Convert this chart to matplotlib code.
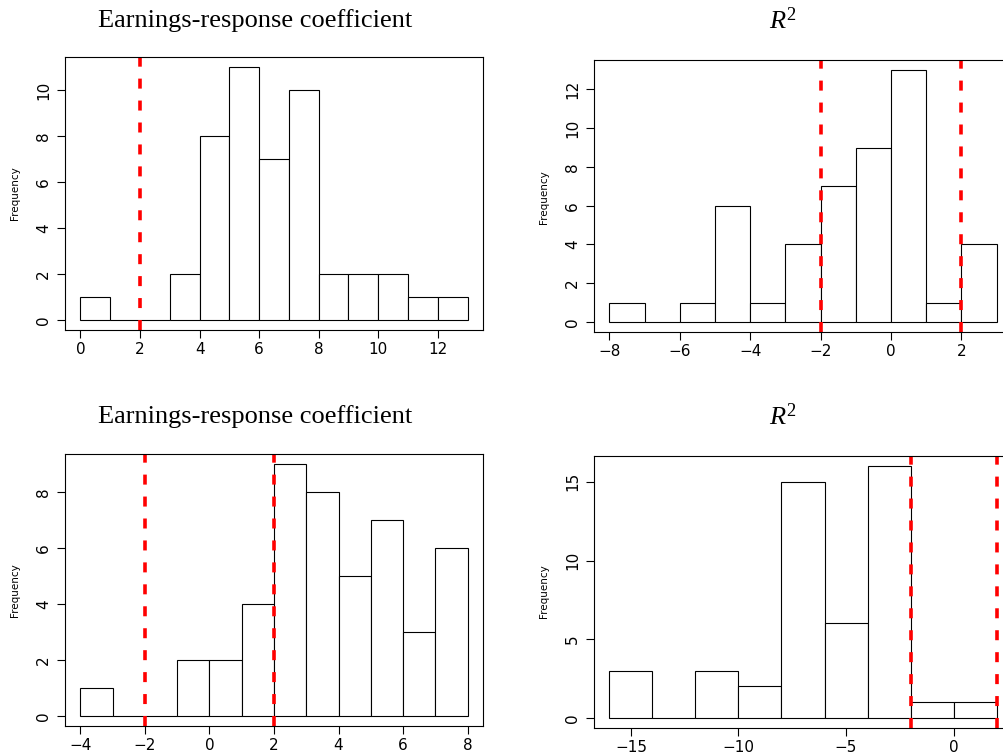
import numpy as np
import matplotlib
matplotlib.use("Agg")
import matplotlib.pyplot as plt

plt.rcParams['font.family'] = 'DejaVu Sans'
plt.rcParams['mathtext.fontset'] = 'custom'
plt.rcParams['mathtext.rm'] = 'Liberation Serif'
plt.rcParams['mathtext.it'] = 'Liberation Serif:italic'
plt.rcParams['lines.scale_dashes'] = False

# histogram data (bin edges + counts)
erc1_edges = list(range(0, 14))
erc1_counts = [1, 0, 0, 2, 8, 11, 7, 10, 2, 2, 2, 1, 1]
erc1_lines = [2]
erc1_xticks = [0, 2, 4, 6, 8, 10, 12]
erc1_yticks = [0, 2, 4, 6, 8, 10]

r2a_edges = list(range(-8, 4))
r2a_counts = [1, 0, 1, 6, 1, 4, 7, 9, 13, 1, 4]
r2a_lines = [-2, 2]
r2a_xticks = [-8, -6, -4, -2, 0, 2]
r2a_yticks = [0, 2, 4, 6, 8, 10, 12]

erc2_edges = list(range(-4, 9))
erc2_counts = [1, 0, 0, 2, 2, 4, 9, 8, 5, 7, 3, 6]
erc2_lines = [-2, 2]
erc2_xticks = [-4, -2, 0, 2, 4, 6, 8]
erc2_yticks = [0, 2, 4, 6, 8]

r2b_edges = list(range(-16, 4, 2))
r2b_counts = [3, 0, 3, 2, 15, 6, 16, 1, 1]
r2b_lines = [-2, 2]
r2b_xticks = [-15, -10, -5, 0]
r2b_yticks = [0, 5, 10, 15]

W, H = 1004, 756
fig = plt.figure(figsize=(W / 100, H / 100), dpi=100)


def px_axes(x0, x1, ytop, ybot):
    return fig.add_axes([x0 / W, 1 - ybot / H, (x1 - x0) / W, (ybot - ytop) / H])


def panel(ax, edges, counts, lines, xticks, yticks):
    edges = np.array(edges, dtype=float)
    ax.bar(edges[:-1], counts, width=np.diff(edges), align='edge',
           facecolor='white', edgecolor='black', linewidth=0.8)
    for v in lines:
        ax.axvline(v, color='#ff0000', linewidth=2.6, linestyle=(0, (7.2, 8.6)))
    xr = edges[-1] - edges[0]
    ax.set_xlim(edges[0] - 0.04 * xr, edges[-1] + 0.04 * xr)
    ym = max(counts)
    ax.set_ylim(-0.04 * ym, ym * 1.04)
    ax.set_xticks(xticks)
    ax.set_yticks(yticks)
    ax.tick_params(direction='out', length=5.5, width=0.8, labelsize=11, pad=3.5)
    ax.tick_params(axis='y', labelrotation=90, pad=4.5)
    for lab in ax.get_yticklabels():
        lab.set_va('center')
    for s in ax.spines.values():
        s.set_linewidth(0.8)


ax1 = px_axes(65, 483, 57, 330)
panel(ax1, erc1_edges, erc1_counts, erc1_lines, erc1_xticks, erc1_yticks)
ax2 = px_axes(594, 1012, 60, 332)
panel(ax2, r2a_edges, r2a_counts, r2a_lines, r2a_xticks, r2a_yticks)
ax3 = px_axes(65, 483, 454, 726)
panel(ax3, erc2_edges, erc2_counts, erc2_lines, erc2_xticks, erc2_yticks)
ax4 = px_axes(594, 1012, 456, 728)
panel(ax4, r2b_edges, r2b_counts, r2b_lines, r2b_xticks, r2b_yticks)

# titles
fig.text(255 / W, 1 - 27 / H, 'Earnings-response coefficient', ha='center', va='baseline',
         fontsize=19, family='Liberation Serif')
fig.text(783 / W, 1 - 29 / H, r'$R^2$', ha='center', va='baseline', fontsize=19)
fig.text(255 / W, 1 - 423 / H, 'Earnings-response coefficient', ha='center', va='baseline',
         fontsize=19, family='Liberation Serif')
fig.text(783 / W, 1 - 425 / H, r'$R^2$', ha='center', va='baseline', fontsize=19)

# y labels
for x, y in [(15, 193), (15, 590), (544, 197), (544, 591)]:
    fig.text(x / W, 1 - y / H, 'Frequency', rotation=90, ha='center', va='center', fontsize=7.5)

fig.savefig('out.png', dpi=100)
